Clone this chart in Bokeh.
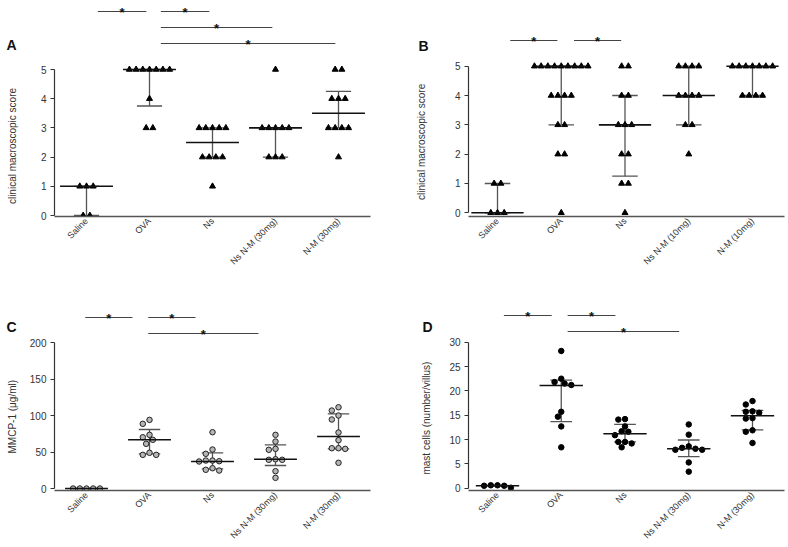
import math
from bokeh.plotting import figure
from bokeh.layouts import column, row
from bokeh.models import Range1d, FixedTicker, LinearAxis
from bokeh.core.properties import value
from bokeh.embed import file_html
from bokeh.resources import INLINE

FONT = "Liberation Sans"

# ---------------- data ----------------
cats_30 = ["Saline", "OVA", "Ns", "Ns N-M (30mg)", "N-M (30mg)"]
cats_10 = ["Saline", "OVA", "Ns", "Ns N-M (10mg)", "N-M (10mg)"]

# Panel A: clinical macroscopic score
A_saline = [1, 1, 1, 0, 0]
A_ova = [5, 5, 5, 5, 5, 5, 5, 4, 3, 3]
A_ns = [3, 3, 3, 3, 3, 2, 2, 2, 2, 1]
A_nsnm = [5, 3, 3, 3, 3, 3, 2, 2, 2]
A_nm = [5, 5, 4, 4, 4, 3, 3, 3, 3, 2]
A_median = [1, 5, 2.5, 3, 3.5]
A_q1 = [0, 3.75, 2, 2, 3]
A_q3 = [1, 5, 3, 3, 4.25]

# Panel B: clinical macroscopic score (10mg)
B_saline = [1, 1, 0, 0, 0]
B_ova = [5, 5, 5, 5, 5, 5, 5, 5, 5, 4, 4, 4, 4, 3, 3, 2, 2, 0]
B_ns = [5, 5, 4, 4, 3, 3, 3, 2, 2, 1, 1, 0]
B_nsnm = [5, 5, 5, 5, 4, 4, 4, 4, 3, 3, 2]
B_nm = [5, 5, 5, 5, 5, 5, 5, 4, 4, 4, 4]
B_median = [0, 5, 3, 4, 5]
B_q1 = [0, 3, 1.25, 3, 4]
B_q3 = [1, 5, 4, 5, 5]

# Panel C: MMCP-1 (ug/ml)
C_saline = [0, 0, 0, 0, 0]
C_ova = [94, 88.6, 73.5, 70.2, 66.7, 61.2, 48.9, 46.1, 46.1]
C_ns = [77.1, 53.4, 47.5, 38.3, 37.0, 37.4, 38.3, 27.8, 24.6, 25.6]
C_nsnm = [73.5, 64.3, 53.0, 54.3, 39.3, 39.3, 40.1, 23.7, 14.6]
C_nm = [111.3, 106.8, 100.0, 94.5, 76.7, 66.2, 55.2, 54.3, 55.2, 35.2]
C_median = [0, 66.7, 37.0, 40.1, 71.2]
C_q1 = [0, 47.5, 27.0, 31.5, 54.3]
C_q3 = [0, 80.8, 48.9, 59.8, 102.2]

# Panel D: mast cells (number/villus)
D_saline = [0.6, 0.5, 0.1, 0.5, 0.6]
D_ova = [28.2, 22.5, 21.5, 21.8, 21.2, 15.7, 14.7, 12.7, 8.4]
D_ns = [14.2, 14.1, 12.7, 11.6, 11.7, 10.9, 9.5, 9.5, 9.2, 8.4]
D_nsnm = [13.1, 11.0, 8.6, 8.1, 7.9, 7.9, 8.3, 5.3, 3.4]
D_nm = [17.9, 17.2, 15.5, 15.7, 15.8, 14.4, 14.3, 11.9, 11.6, 9.3]
D_median = [0.5, 21.1, 11.2, 8.1, 14.9]
D_q1 = [0.5, 13.7, 9.5, 6.5, 12.0]
D_q3 = [0.6, 22.2, 13.1, 9.9, 16.0]

score_ticks = [0, 1, 2, 3, 4, 5]
mmcp_ticks = [0, 50, 100, 150, 200]
mast_ticks = [0, 5, 10, 15, 20, 25, 30]

# significance comparisons: (group i, group j, level)
A_sig = [(0, 1, 0), (1, 2, 0), (1, 3, 1), (1, 4, 2)]
B_sig = [(0, 1, 0), (1, 2, 0)]
C_sig = [(0, 1, 0), (1, 2, 0), (1, 3, 1)]
D_sig = [(0, 1, 0), (1, 2, 0), (1, 3, 1)]


def swarm(vals, sx, sy, step, discrete):
    """x offsets (category units) for a scatter-dot column."""
    n = len(vals)
    offs = [0.0] * n
    if discrete:
        seen = {}
        for i, v in enumerate(vals):
            seen.setdefault(v, []).append(i)
        for v, idx in seen.items():
            m = len(idx)
            for k, i in enumerate(idx):
                offs[i] = (k - (m - 1) / 2) * step / sx
        return offs
    order = sorted(range(n), key=lambda i: -vals[i])
    cands = [0.0]
    for k in range(1, 30):
        cands += [-0.5 * k * step, 0.5 * k * step]
    placed = []
    for i in order:
        v = vals[i]
        for c in cands:
            if all(math.hypot(c - pc, (v - pv) * sy) >= 0.86 * step for pc, pv in placed):
                placed.append((c, v))
                offs[i] = c / sx
                break
    return offs


def make_panel(letter, cats, groups, med, q1, q3, ymax, yticks, ylabel, sigs, g,
               marker, discrete):
    W, H, top, left = g["W"], g["H"], g["top"], g["left"]
    fl, fr, fb = g["fl"], g["fr"], g["fb"]
    ft = top
    sx = (g["c4"] - g["c0"]) / 4.0
    xa = -(g["c0"] - fl) / sx
    xb = 4 + (fr - g["c4"]) / sx
    sy = (g["y0"] - g["ym"]) / ymax
    yhi = ymax + (g["ym"] - ft) / sy
    ylo = -(fb - g["y0"]) / sy

    def ypx(py):  # panel-relative pixel row -> data y
        return yhi - py / sy

    p = figure(width=W, height=H, output_backend="svg", toolbar_location=None,
               x_range=Range1d(xa, xb), y_range=Range1d(ylo, yhi),
               min_border_left=fl - left, min_border_right=left + W - fr,
               min_border_top=0, min_border_bottom=top + H - fb)
    p.outline_line_color = None
    p.grid.visible = False

    xax = p.xaxis[0]
    xax.ticker = FixedTicker(ticks=[0, 1, 2, 3, 4])
    xax.major_label_overrides = {i: c for i, c in enumerate(cats)}
    xax.major_label_orientation = math.pi / 4
    xax.major_tick_line_color = None
    xax.minor_tick_line_color = None
    xax.major_tick_out = 0
    xax.major_label_standoff = 3
    xax.axis_line_color = "#555"
    xax.axis_line_width = 1.3
    xax.major_label_text_font = FONT
    xax.major_label_text_font_size = "9px"
    xax.major_label_text_color = "#333"

    # the axis label is centred on the frame; pad it with no-break spaces at its
    # upper end so that the visible words sit centred on the 0..max axis line
    shift = g["lab_cy"] - (top + fb) / 2.0
    npad = max(0, int(round(2 * shift / 2.78)))

    yax = p.yaxis[0]
    yax.ticker = FixedTicker(ticks=yticks)
    yax.bounds = (0, ymax)
    yax.minor_tick_line_color = None
    yax.major_tick_in = 0
    yax.major_tick_out = 4
    yax.major_tick_line_color = "#333"
    yax.axis_line_color = "#333"
    yax.axis_line_width = 1.2
    yax.major_label_standoff = 4
    yax.major_label_text_font = FONT
    yax.major_label_text_font_size = "10px"
    yax.major_label_text_color = "#333"
    yax.axis_label = ylabel + "\u00a0" * npad
    yax.axis_label_text_font = FONT
    yax.axis_label_text_font_size = "10px"
    yax.axis_label_text_font_style = "normal"
    yax.axis_label_text_color = "#333"
    yax.axis_label_standoff = g["lab_standoff"]

    # panel letter, carried by a bare outer axis on the left
    yl = round(ypx(g["ly"]), 3)
    lax = LinearAxis(ticker=FixedTicker(ticks=[yl]), major_label_overrides={yl: letter},
                     axis_line_color=None, major_tick_line_color=None,
                     minor_tick_line_color=None, major_tick_out=0, major_tick_in=0,
                     major_label_standoff=g["let_standoff"],
                     major_label_text_font=FONT, major_label_text_font_size="14px",
                     major_label_text_font_style="bold", major_label_text_color="#111")
    p.add_layout(lax, "left")

    # significance bars
    p0, p1 = g["pad"]
    for (i, j, lev) in sigs:
        ly = g["levels"][lev]
        x0, x1 = i + p0, j + p1
        p.segment(x0=[x0], x1=[x1], y0=[ypx(ly)], y1=[ypx(ly)], line_color="#444", line_width=1)
        p.text(x=[(x0 + x1) / 2], y=[ypx(ly + 0.5)], text=["*"], text_font=value(FONT),
               text_font_size="13px", text_font_style="bold", text_align="center",
               text_baseline="alphabetic", text_color="#111")

    idx = list(range(5))
    mh, ch = g["mhw"], g["chw"]
    p.segment(x0=idx, x1=idx, y0=q1, y1=q3, line_color="#555", line_width=1.3)
    p.segment(x0=[i - ch for i in idx], x1=[i + ch for i in idx], y0=q1, y1=q1,
              line_color="#555", line_width=1.3)
    p.segment(x0=[i - ch for i in idx], x1=[i + ch for i in idx], y0=q3, y1=q3,
              line_color="#555", line_width=1.3)

    step = 6.7
    for k, vals in enumerate(groups):
        offs = swarm(vals, sx, sy, step, discrete)
        xs = [k + o for o in offs]
        if marker == "triangle":
            p.scatter(xs, vals, marker="triangle", size=6, color="#000")
        elif marker == "open":
            p.scatter(xs, vals, marker="circle", size=5.5, fill_color="#b5b5b5",
                      line_color="#222", line_width=1)
        else:
            p.scatter(xs, vals, marker="circle", size=5.5, color="#000")

    p.segment(x0=[i - mh for i in idx], x1=[i + mh for i in idx], y0=med, y1=med,
              line_color="#111", line_width=1.6)
    return p


geoA = dict(left=0, top=0, W=394, H=273, fl=54, fr=370, fb=216, c0=86, c4=338,
            y0=215, ym=69, levels=[11, 27, 43], pad=(0.18, -0.05), ly=45,
            lab_standoff=20, let_standoff=-13, lab_cy=145, mhw=0.42, chw=0.2)
geoB = dict(left=394, top=0, W=394, H=273, fl=468, fr=784, fb=216, c0=497, c4=752,
            y0=212.3, ym=65.7, levels=[40], pad=(0.2, -0.06), ly=45,
            lab_standoff=25, let_standoff=-16, lab_cy=142, mhw=0.41, chw=0.2)
geoC = dict(left=0, top=273, W=394, H=274, fl=54, fr=370, fb=490, c0=86, c4=338,
            y0=488, ym=342, levels=[44, 60], pad=(-0.02, -0.27), ly=54,
            lab_standoff=9, let_standoff=-13, lab_cy=416, mhw=0.34, chw=0.17)
geoD = dict(left=394, top=273, W=394, H=274, fl=468, fr=784, fb=490, c0=497, c4=752,
            y0=487.7, ym=341.7, levels=[42, 58], pad=(0.1, -0.15), ly=53,
            lab_standoff=14, let_standoff=-14, lab_cy=417, mhw=0.34, chw=0.17)

panA = make_panel("A", cats_30, [A_saline, A_ova, A_ns, A_nsnm, A_nm], A_median, A_q1, A_q3,
                  5, score_ticks, "clinical macroscopic score", A_sig, geoA, "triangle", True)
panB = make_panel("B", cats_10, [B_saline, B_ova, B_ns, B_nsnm, B_nm], B_median, B_q1, B_q3,
                  5, score_ticks, "clinical macroscopic score", B_sig, geoB, "triangle", True)
panC = make_panel("C", cats_30, [C_saline, C_ova, C_ns, C_nsnm, C_nm], C_median, C_q1, C_q3,
                  200, mmcp_ticks, "MMCP-1 (μg/ml)", C_sig, geoC, "open", False)
panD = make_panel("D", cats_30, [D_saline, D_ova, D_ns, D_nsnm, D_nm], D_median, D_q1, D_q3,
                  30, mast_ticks, "mast cells (number/villus)", D_sig, geoD, "filled", False)

layout = column(row(panA, panB), row(panC, panD))
open("out.html", "w").write(file_html(layout, INLINE))
